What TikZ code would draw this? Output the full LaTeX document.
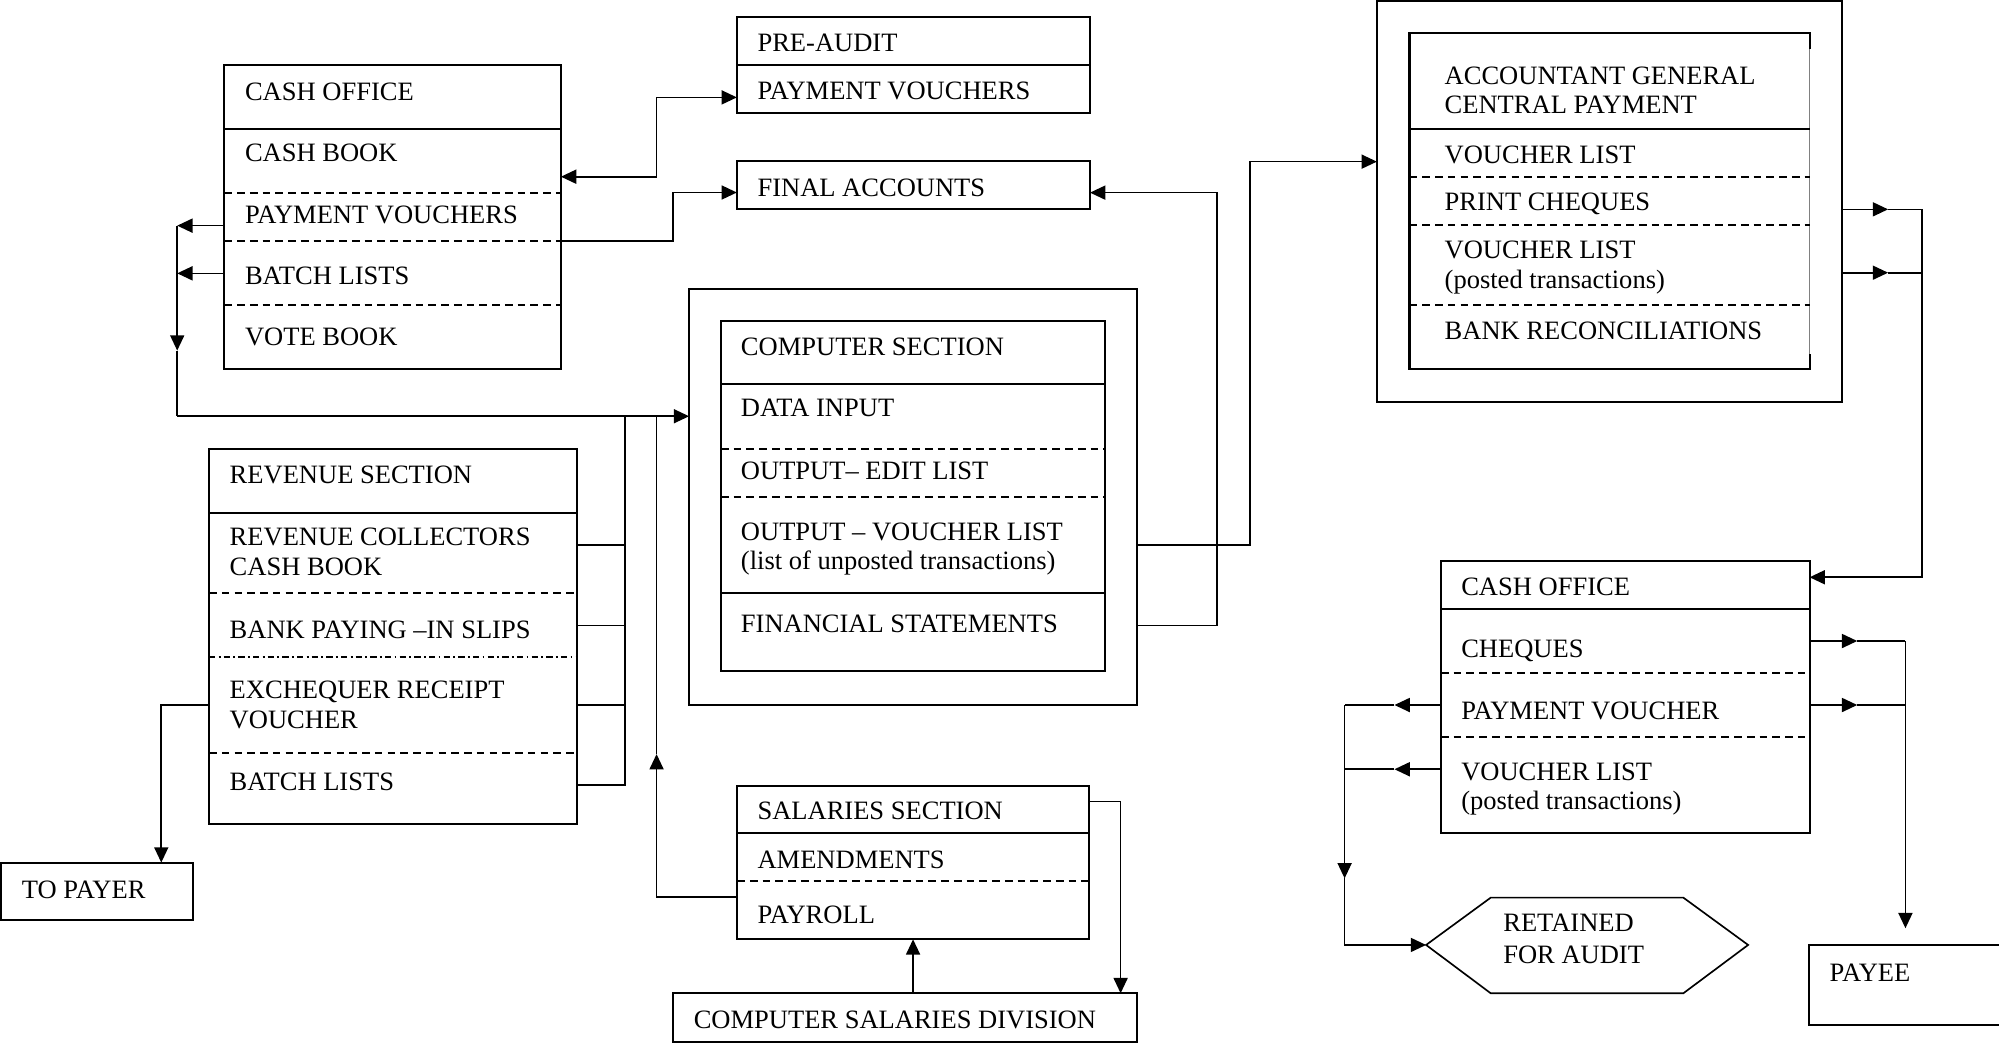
\documentclass[tikz,border=0pt]{standalone}
\usepackage{fontspec}
\setmainfont{Liberation Serif}
\usetikzlibrary{arrows.meta}
\newcommand\diagfont{\fontsize{20.8pt}{25pt}\selectfont}
% label helper: name, x, baseline y, text
\newcommand\putlabel[4]{\node[lbl] (#1) at (#2,#3) {#4};}
% horizontal row divider across a box: style, box, y
\newcommand\rowline[3]{\draw[#1] (#2.west |- 0,#3) -- (#2.east |- 0,#3);}
\begin{document}
\begin{tikzpicture}[x=1pt,y=-1pt,
  Hd/.tip={Triangle[length=12pt,width=11pt]},
  frame/.style={draw, line width=1.6pt, inner sep=0pt, outer sep=0pt, anchor=north west},
  lbl/.style={anchor=base west, inner sep=0pt, font=\diagfont},
  solidsep/.style={line width=1.6pt},
  dashsep/.style={line width=1.4pt, dash pattern=on 6pt off 4pt},
  dotsep/.style={line width=1.4pt, dash pattern=on 5pt off 2.5pt on 1.5pt off 2.5pt},
  conn/.style={line width=1.3pt},
  arr/.style={conn, -Hd},
  darr/.style={conn, Hd-Hd}]

\useasboundingbox[fill=white] (0,0) rectangle (1568,819);

% ---------- boxes ----------
\node[frame, minimum width=264pt, minimum height=238.4pt] (co1) at (176,51) {};
\rowline{solidsep}{co1}{101}
\rowline{dashsep}{co1}{151.1}
\rowline{dashsep}{co1}{188.8}
\rowline{dashsep}{co1}{239.2}

\node[frame, minimum width=277pt, minimum height=76pt] (pa) at (578,13) {};
\rowline{solidsep}{pa}{51}

\node[frame, minimum width=277pt, minimum height=37.4pt] (fa) at (578,126.5) {};

\node[frame, minimum width=351.2pt, minimum height=326pt] (cpo) at (540.5,227) {};
\node[frame, minimum width=301.5pt, minimum height=274.3pt] (cpi) at (565.5,251.8) {};
\rowline{solidsep}{cpi}{301.5}
\rowline{dashsep}{cpi}{352.2}
\rowline{dashsep}{cpi}{390.1}
\rowline{solidsep}{cpi}{465}

\node[frame, minimum width=288.7pt, minimum height=293.9pt] (rev) at (164,352.4) {};
\rowline{solidsep}{rev}{402.6}
\rowline{dashsep}{rev}{465}
\rowline{dotsep}{rev}{515.3}
\rowline{dashsep}{rev}{590.4}

\node[frame, minimum width=150.3pt, minimum height=45pt] (tp) at (1,676.6) {};

\node[frame, minimum width=276.1pt, minimum height=120.3pt] (sal) at (578.2,616.5) {};
\rowline{solidsep}{sal}{653.6}
\rowline{dashsep}{sal}{691.3}

\node[frame, minimum width=363.6pt, minimum height=37.9pt] (csd) at (528.1,779.1) {};

\node[frame, minimum width=364.6pt, minimum height=314.2pt] (ago) at (1080,0.8) {};
\node[inner sep=0pt, outer sep=0pt, anchor=north west,
      minimum width=313.9pt, minimum height=263.6pt] (agi) at (1105.6,26.1) {};
\draw[line width=0.7pt, gray] (agi.north east) -- (agi.south east);
\draw[solidsep] ([yshift=-12pt]agi.north east) -- (agi.north east) -- (agi.north west)
  -- (agi.south west) -- (agi.south east) -- ([yshift=12pt]agi.south east);
\rowline{solidsep}{agi}{101.2}
\rowline{dashsep}{agi}{138.8}
\rowline{dashsep}{agi}{176.7}
\rowline{dashsep}{agi}{239.2}

\node[frame, minimum width=289.2pt, minimum height=213.6pt] (co2) at (1130.2,440) {};
\rowline{solidsep}{co2}{477.9}
\rowline{dashsep}{co2}{528.1}
\rowline{dashsep}{co2}{578.3}

\node[frame, minimum width=190pt, minimum height=62.8pt] (pay) at (1419,741.2) {};

% hexagon
\coordinate (hexW) at (1118.6,741.2);
\coordinate (hexNW) at (1169.3,704.1);
\coordinate (hexNE) at (1320.4,704.1);
\coordinate (hexE) at (1371.2,741.2);
\coordinate (hexSE) at (1320.4,779.1);
\coordinate (hexSW) at (1169.3,779.1);
\draw[line width=1.3pt] (hexW) -- (hexNW) -- (hexNE) -- (hexE) -- (hexSE) -- (hexSW) -- cycle;

% ---------- texts ----------
\putlabel{t01}{192}{79}{CASH OFFICE}
\putlabel{t02}{192}{127}{CASH BOOK}
\putlabel{t03}{192}{175}{PAYMENT VOUCHERS}
\putlabel{t04}{192}{223}{BATCH LISTS}
\putlabel{t05}{192}{271}{VOTE BOOK}

\putlabel{t06}{594}{40.5}{PRE-AUDIT}
\putlabel{t07}{594}{78.4}{PAYMENT VOUCHERS}
\putlabel{t08}{594}{154}{FINAL ACCOUNTS}

\putlabel{t09}{581}{279}{COMPUTER SECTION}
\putlabel{t10}{581}{327}{DATA INPUT}
\putlabel{t11}{581}{376}{OUTPUT– EDIT LIST}
\putlabel{t12}{581}{424}{OUTPUT – VOUCHER LIST}
\putlabel{t13}{581}{447}{(list of unposted transactions)}
\putlabel{t14}{581}{496.5}{FINANCIAL STATEMENTS}

\putlabel{t15}{180}{379.5}{REVENUE SECTION}
\putlabel{t16}{180}{428}{REVENUE COLLECTORS}
\putlabel{t17}{180}{451.5}{CASH BOOK}
\putlabel{t18}{180}{500.5}{BANK PAYING –IN SLIPS}
\putlabel{t19}{180}{548}{EXCHEQUER RECEIPT}
\putlabel{t20}{180}{571.7}{VOUCHER}
\putlabel{t21}{180}{620}{BATCH LISTS}

\putlabel{t22}{17}{705}{TO PAYER}

\putlabel{t23}{594}{643}{SALARIES SECTION}
\putlabel{t24}{594}{681}{AMENDMENTS}
\putlabel{t25}{594}{724}{PAYROLL}
\putlabel{t26}{544}{806.5}{COMPUTER SALARIES DIVISION}

\putlabel{t27}{1133}{66}{ACCOUNTANT GENERAL}
\putlabel{t28}{1133}{89.4}{CENTRAL PAYMENT}
\putlabel{t29}{1133}{128}{VOUCHER LIST}
\putlabel{t30}{1133}{165}{PRINT CHEQUES}
\putlabel{t31}{1133}{203}{VOUCHER LIST}
\putlabel{t32}{1133}{226.5}{(posted transactions)}
\putlabel{t33}{1133}{266}{BANK RECONCILIATIONS}

\putlabel{t34}{1146}{467}{CASH OFFICE}
\putlabel{t35}{1146}{515.5}{CHEQUES}
\putlabel{t36}{1146}{564}{PAYMENT VOUCHER}
\putlabel{t37}{1146}{612}{VOUCHER LIST}
\putlabel{t38}{1146}{635.3}{(posted transactions)}

\putlabel{t39}{1179}{731}{RETAINED}
\putlabel{t40}{1179}{755.5}{FOR AUDIT}
\putlabel{t41}{1435}{770}{PAYEE}

% ---------- connectors ----------
% cash office <-> pre-audit
\coordinate (k1) at (515,138.6);
\coordinate (k2) at (515,76.4);
\draw[darr] (co1.east |- k1) -- (k1) -- (k2) -- (pa.west |- k2);

% cash office -> final accounts
\coordinate (k3) at (528,188.8);
\coordinate (k4) at (528,151);
\draw[arr] (co1.east |- k3) -- (k3) -- (k4) -- (fa.west |- k4);

% cash office -> computer section
\coordinate (l1) at (139,177);
\coordinate (l2) at (139,214.4);
\coordinate (l3) at (139,275);
\coordinate (l4) at (139,326.5);
\draw[arr] (co1.west |- l1) -- (l1);
\draw[arr] (co1.west |- l2) -- (l2);
\draw[arr] (l1) -- (l3);
\draw[conn] (l3) -- (l4);
\draw[arr] (l4) -- (cpo.west |- l4);

% revenue section -> computer section
\coordinate (r1) at (490,427.5);
\coordinate (r2) at (490,490.5);
\coordinate (r3) at (490,553);
\coordinate (r4) at (490,615.7);
\draw[conn] (rev.east |- r1) -- (r1);
\draw[conn] (rev.east |- r2) -- (r2);
\draw[conn] (rev.east |- r3) -- (r3);
\draw[conn] (rev.east |- r4) -- (r4) -- (r4 |- l4);

% revenue section -> to payer
\coordinate (tq) at (126.5,553);
\draw[arr] (rev.west |- tq) -- (tq) -- (tq |- tp.north);

% payroll -> computer section
\coordinate (p1) at (515,703.8);
\coordinate (p2) at (515,591.5);
\draw[arr] (sal.west |- p1) -- (p1) -- (p2);
\draw[conn] (p2) -- (p2 |- l4);

% salaries <-> computer salaries division
\coordinate (s1) at (879,628.8);
\draw[arr] (sal.east |- s1) -- (s1) -- (s1 |- csd.north);
\coordinate (s2) at (716.2,760);
\draw[arr] (s2 |- csd.north) -- (s2 |- sal.south);

% computer section -> accountant general
\coordinate (g1) at (980.3,427.5);
\coordinate (g2) at (980.3,126.8);
\draw[arr] (cpo.east |- g1) -- (g1) -- (g2) -- (ago.west |- g2);

% computer section -> final accounts
\coordinate (f1) at (954.6,490.5);
\coordinate (f2) at (954.6,151.1);
\draw[arr] (cpo.east |- f1) -- (f1) -- (f2) -- (fa.east |- f2);

% accountant general -> cash office
\coordinate (a1) at (1481,164.2);
\coordinate (a2) at (1507.4,164.2);
\coordinate (a3) at (1481,213.9);
\coordinate (a4) at (1507.4,213.9);
\coordinate (a5) at (1507.4,452.8);
\draw[arr] (ago.east |- a1) -- (a1);
\draw[conn] (a1) -- (a2);
\draw[arr] (ago.east |- a3) -- (a3);
\draw[conn] (a3) -- (a4);
\draw[arr] (a2) -- (a5) -- (co2.east |- a5);

% cash office -> payee
\coordinate (c1) at (1456.8,502.8);
\coordinate (c2) at (1494.6,502.8);
\coordinate (c3) at (1456.8,553);
\coordinate (c4) at (1494.6,553);
\coordinate (c5) at (1494.6,728.1);
\draw[arr] (co2.east |- c1) -- (c1);
\draw[conn] (c1) -- (c2);
\draw[arr] (co2.east |- c3) -- (c3);
\draw[conn] (c3) -- (c4);
\draw[arr] (c2) -- (c5);

% cash office -> retained for audit
\coordinate (d1) at (1093.8,553);
\coordinate (d2) at (1054.7,553);
\coordinate (d3) at (1093.8,603.4);
\coordinate (d4) at (1054.7,603.4);
\coordinate (d5) at (1054.7,689);
\coordinate (d6) at (1054.7,741.2);
\draw[arr] (co2.west |- d1) -- (d1);
\draw[conn] (d1) -- (d2);
\draw[arr] (co2.west |- d3) -- (d3);
\draw[conn] (d3) -- (d4);
\draw[arr] (d2) -- (d5);
\draw[arr] (d5) -- (d6) -- (hexW);

\end{tikzpicture}
\end{document}
